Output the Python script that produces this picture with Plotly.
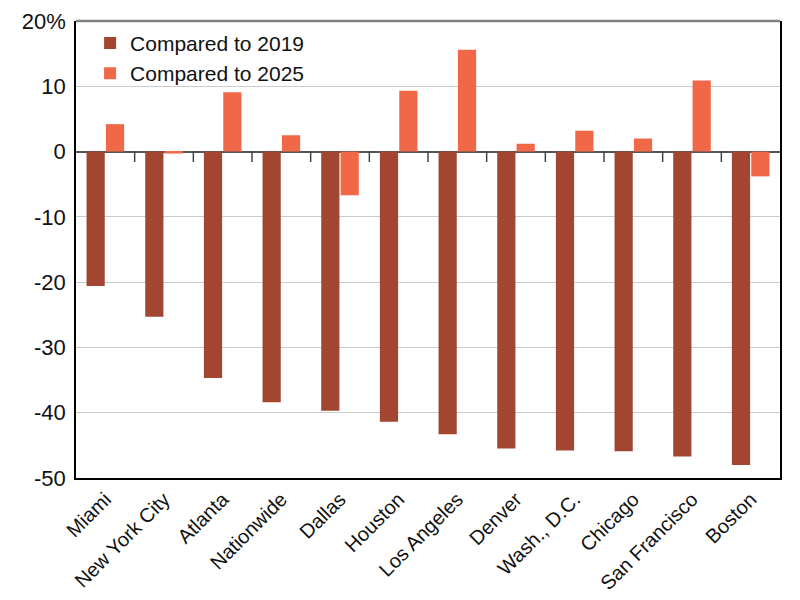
import plotly.graph_objects as go

cities = ["Miami", "New York City", "Atlanta", "Nationwide", "Dallas", "Houston",
          "Los Angeles", "Denver", "Wash., D.C.", "Chicago", "San Francisco", "Boston"]
vs_2019 = [-20.6, -25.3, -34.7, -38.4, -39.7, -41.4, -43.3, -45.5, -45.8, -45.9, -46.7, -48.0]
vs_2025 = [4.2, -0.3, 9.1, 2.5, -6.7, 9.3, 15.6, 1.2, 3.2, 2.0, 10.9, -3.8]
y_tickvals = [-50, -40, -30, -20, -10, 0, 10, 20]
y_ticktext = ["-50", "-40", "-30", "-20", "-10", "0", "10", "20%"]

DARK = "#A34631"
LIGHT = "#F06848"
FONT = "Liberation Sans, Arial, Helvetica, sans-serif"

fig = go.Figure()
fig.add_trace(go.Bar(name="Compared to 2019", x=cities, y=vs_2019, marker_color=DARK,
                     marker_line_width=0))
fig.add_trace(go.Bar(name="Compared to 2025", x=cities, y=vs_2025, marker_color=LIGHT,
                     marker_line_width=0))

# category-boundary ticks hanging from the zero line
shapes = []
for i in range(len(cities) - 1):
    shapes.append(dict(type="line", xref="x", yref="y", x0=i + 0.5, x1=i + 0.5,
                       y0=0, y1=-1.6, line=dict(color="#444444", width=1.5)))
# grey top frame
shapes.append(dict(type="line", xref="paper", yref="paper", x0=0, x1=1, y0=1, y1=1,
                   line=dict(color="#808080", width=2.5)))

fig.update_layout(
    width=800, height=600,
    margin=dict(l=76, r=20, t=21, b=122),
    paper_bgcolor="white", plot_bgcolor="white",
    barmode="group", bargap=0.34, bargroupgap=0.06,
    font=dict(family=FONT, color="#111111"),
    showlegend=True,
    legend=dict(x=0.02, y=0.996, xanchor="left", yanchor="top",
                font=dict(size=21, family=FONT, color="#111111"),
                bgcolor="rgba(0,0,0,0)", tracegroupgap=0, itemwidth=30),
    shapes=shapes,
    xaxis=dict(showline=True, linecolor="black", linewidth=1.5, mirror=False,
               tickangle=-45, tickfont=dict(size=20, family=FONT, color="#111111"),
               ticks="", showgrid=False, range=[-0.5, len(cities) - 0.5],
               automargin=False),
    yaxis=dict(range=[-50, 20], tickvals=y_tickvals, ticktext=y_ticktext,
               tickfont=dict(size=22, family=FONT, color="#111111"),
               showline=True, linecolor="black", linewidth=1.5, mirror=True,
               showgrid=True, gridcolor="#cccccc", gridwidth=1,
               zeroline=True, zerolinecolor="#555555", zerolinewidth=1.5,
               ticks="", ticklabelstandoff=4, automargin=False),
)

fig.write_html("out.html")
